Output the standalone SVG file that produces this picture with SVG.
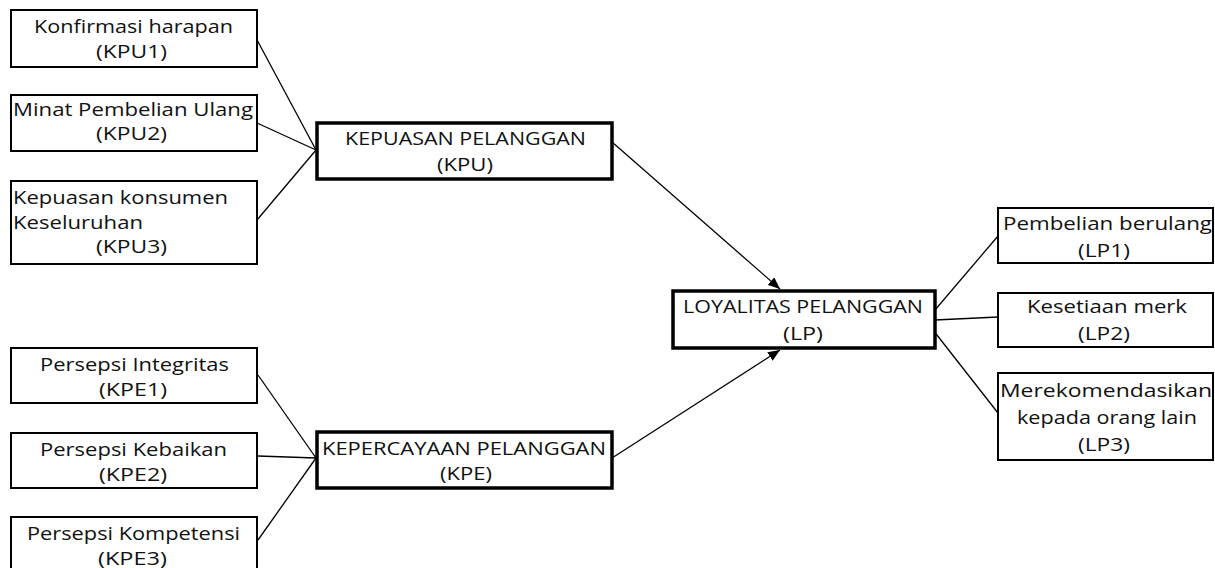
<svg xmlns="http://www.w3.org/2000/svg" width="1215" height="568" viewBox="0 0 1215 568">
<style>
.bg{fill:#fff}
.box{fill:#fff;stroke:#000;stroke-width:2}
.main{fill:#fff;stroke:#000;stroke-width:3.5}
.t{font-family:"Open Sans","Liberation Sans",sans-serif;font-size:18px;fill:#111}
.c{stroke:#000;stroke-width:1.3;fill:none}
</style>
<defs>
<marker id="ah" viewBox="0 0 12 10" refX="12" refY="5" markerWidth="12" markerHeight="10" markerUnits="userSpaceOnUse" orient="auto">
<path d="M0,0 L12,5 L0,10 z" fill="#000"/>
</marker>
</defs>
<rect class="bg" x="0" y="0" width="1215" height="568"/>
<g id="connectors">
<line class="c" x1="256" y1="38" x2="316" y2="150"/>
<line class="c" x1="257" y1="123" x2="316" y2="150"/>
<line class="c" x1="257" y1="220" x2="316" y2="150"/>
<line class="c" x1="258" y1="375" x2="316" y2="458"/>
<line class="c" x1="258" y1="456" x2="316" y2="458"/>
<line class="c" x1="258" y1="540" x2="316" y2="458"/>
<line class="c" x1="612" y1="142" x2="780" y2="289" marker-end="url(#ah)"/>
<line class="c" x1="612" y1="458" x2="780" y2="350" marker-end="url(#ah)"/>
<line class="c" x1="935" y1="310" x2="998" y2="236"/>
<line class="c" x1="935" y1="320" x2="998" y2="317"/>
<line class="c" x1="933" y1="330" x2="998" y2="413"/>
</g>
<g id="kpu1">
<rect class="box" x="11" y="10" width="246" height="57"/>
<text class="t" x="34" y="33" textLength="199" lengthAdjust="spacingAndGlyphs">Konfirmasi harapan</text>
<text class="t" x="96" y="58" textLength="71" lengthAdjust="spacingAndGlyphs">(KPU1)</text>
</g>
<g id="kpu2">
<rect class="box" x="11" y="95" width="246" height="56"/>
<text class="t" x="13" y="116" textLength="240" lengthAdjust="spacingAndGlyphs">Minat Pembelian Ulang</text>
<text class="t" x="96" y="140" textLength="71" lengthAdjust="spacingAndGlyphs">(KPU2)</text>
</g>
<g id="kpu3">
<rect class="box" x="11" y="181" width="246" height="83"/>
<text class="t" x="13" y="204" textLength="215" lengthAdjust="spacingAndGlyphs">Kepuasan konsumen</text>
<text class="t" x="13" y="229" textLength="130" lengthAdjust="spacingAndGlyphs">Keseluruhan</text>
<text class="t" x="96" y="253" textLength="71" lengthAdjust="spacingAndGlyphs">(KPU3)</text>
</g>
<g id="kpu">
<rect class="main" x="317" y="123" width="295" height="56"/>
<text class="t" x="345" y="145" textLength="241" lengthAdjust="spacingAndGlyphs">KEPUASAN PELANGGAN</text>
<text class="t" x="437" y="171" textLength="56" lengthAdjust="spacingAndGlyphs">(KPU)</text>
</g>
<g id="kpe1">
<rect class="box" x="11" y="348" width="246" height="55"/>
<text class="t" x="40" y="371" textLength="189" lengthAdjust="spacingAndGlyphs">Persepsi Integritas</text>
<text class="t" x="99" y="396" textLength="68" lengthAdjust="spacingAndGlyphs">(KPE1)</text>
</g>
<g id="kpe2">
<rect class="box" x="11" y="433" width="246" height="55"/>
<text class="t" x="40" y="456" textLength="187" lengthAdjust="spacingAndGlyphs">Persepsi Kebaikan</text>
<text class="t" x="99" y="481" textLength="68" lengthAdjust="spacingAndGlyphs">(KPE2)</text>
</g>
<g id="kpe3">
<rect class="box" x="11" y="517" width="246" height="60"/>
<text class="t" x="27" y="540" textLength="213" lengthAdjust="spacingAndGlyphs">Persepsi Kompetensi</text>
<text class="t" x="98" y="565" textLength="69" lengthAdjust="spacingAndGlyphs">(KPE3)</text>
</g>
<g id="kpe">
<rect class="main" x="317" y="432" width="295" height="56"/>
<text class="t" x="322" y="455" textLength="284" lengthAdjust="spacingAndGlyphs">KEPERCAYAAN PELANGGAN</text>
<text class="t" x="440" y="480" textLength="52" lengthAdjust="spacingAndGlyphs">(KPE)</text>
</g>
<g id="lp">
<rect class="main" x="673" y="291" width="262" height="57"/>
<text class="t" x="683" y="313" textLength="240" lengthAdjust="spacingAndGlyphs">LOYALITAS PELANGGAN</text>
<text class="t" x="783" y="340" textLength="40" lengthAdjust="spacingAndGlyphs">(LP)</text>
</g>
<g id="lp1">
<rect class="box" x="998" y="208" width="215" height="55"/>
<text class="t" x="1003" y="230" textLength="209" lengthAdjust="spacingAndGlyphs">Pembelian berulang</text>
<text class="t" x="1078" y="257" textLength="52" lengthAdjust="spacingAndGlyphs">(LP1)</text>
</g>
<g id="lp2">
<rect class="box" x="998" y="293" width="215" height="54"/>
<text class="t" x="1027" y="313" textLength="160" lengthAdjust="spacingAndGlyphs">Kesetiaan merk</text>
<text class="t" x="1078" y="340" textLength="52" lengthAdjust="spacingAndGlyphs">(LP2)</text>
</g>
<g id="lp3">
<rect class="box" x="998" y="373" width="215" height="87"/>
<text class="t" x="1000" y="397" textLength="212" lengthAdjust="spacingAndGlyphs">Merekomendasikan</text>
<text class="t" x="1017" y="424" textLength="180" lengthAdjust="spacingAndGlyphs">kepada orang lain</text>
<text class="t" x="1078" y="451" textLength="52" lengthAdjust="spacingAndGlyphs">(LP3)</text>
</g>
</svg>
